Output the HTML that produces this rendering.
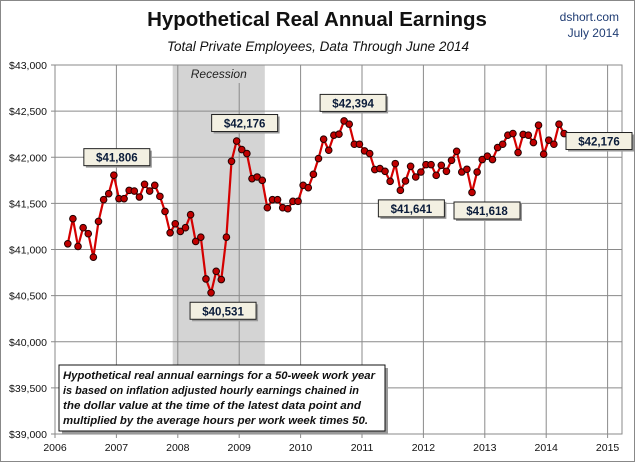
<!DOCTYPE html>
<html><head><meta charset="utf-8"><style>
body{margin:0;background:#fff;}
svg{display:block;font-family:"Liberation Sans",sans-serif;}
</style></head><body>
<svg id="chart" width="635" height="462" viewBox="0 0 635 462">
<rect x="0.5" y="0.5" width="634" height="461" fill="#fff" stroke="#888"/>
<text x="317" y="26" text-anchor="middle" font-size="20.5" font-weight="bold" fill="#111">Hypothetical Real Annual Earnings</text>
<text x="318" y="51" text-anchor="middle" font-size="13.5" font-style="italic" fill="#111">Total Private Employees, Data Through June 2014</text>
<text x="619" y="21" text-anchor="end" font-size="12" fill="#1f3c73">dshort.com</text>
<text x="619" y="37" text-anchor="end" font-size="12" fill="#1f3c73">July 2014</text>
<g id="plot"></g>
</svg>
<script>
const yearTicks=[2006,2007,2008,2009,2010,2011,2012,2013,2014,2015];
const valueTicks=[39000,39500,40000,40500,41000,41500,42000,42500,43000];
const startYear=2006, startMonth=3;
const earnings=[41062,41334,41033,41236,41171,40917,41304,41540,41605,41806,41551,41551,41641,41634,41569,41707,41634,41696,41576,41413,41181,41279,41196,41236,41377,41087,41134,40681,40531,40764,40674,41134,41956,42176,42083,42040,
41768,41786,41750,41453,41540,41540,41453,41442,41522,41522,41696,41670,41815,41986,42196,42076,42239,42250,42394,42359,42141,42141,42069,42040,
41866,41877,41848,41739,41931,41641,41743,41902,41786,41840,41920,41920,41804,41913,41848,41967,42065,41840,41870,41618,41840,41975,42011,41975,42105,42141,42239,42257,42051,42247,42239,42159,42348,42033,42185,42141,42359,42257,42221,42176];
const labeledIdx=[9,33,28,54,65,79,99];
const recession=[2007.917,2009.417];

const X0=55,YW=61.4,L=55,R=622,T=65,B=434;
const xs=y=>X0+(y-2006)*YW;
const ys=v=>B-(v-39000)/4000*(B-T);
const xi=i=>xs(startYear+(startMonth-1+i+0.5)/12);
const NS="http://www.w3.org/2000/svg";
const g=document.getElementById('plot');
function mk(t,a,p){const e=document.createElementNS(NS,t);for(const k in a)e.setAttribute(k,a[k]);(p||g).appendChild(e);return e;}
const fmt=v=>'$'+v.toLocaleString('en-US');

const rec=mk('rect',{x:xs(recession[0]),y:T,width:xs(recession[1])-xs(recession[0]),height:B-T,fill:'#d4d4d4'});


const rt=mk('text',{x:(xs(recession[0])+xs(recession[1]))/2,y:T+13,'text-anchor':'middle','font-size':12,'font-style':'italic',fill:'#222'});
rt.textContent='Recession';



valueTicks.forEach(v=>{
  const l=mk('line',{x1:L-4,x2:R,y1:ys(v),y2:ys(v),stroke:'#8a8a8a','stroke-width':1});
  
  
  const t=mk('text',{x:L-8,y:ys(v)+4,'text-anchor':'end','font-size':10.5,fill:'#111'});
  t.textContent=fmt(v);
  
  
});
yearTicks.forEach(y=>{
  const l=mk('line',{x1:xs(y),x2:xs(y),y1:y===2009?T+18:T,y2:B+4,stroke:'#8a8a8a','stroke-width':1});
  
  
  const t=mk('text',{x:xs(y),y:B+17,'text-anchor':'middle','font-size':10.5,fill:'#111'});
  t.textContent=y;
  
  
});
const bx=mk('rect',{x:L,y:T,width:R-L,height:B-T,fill:'none',stroke:'#8a8a8a'});



const pts=earnings.map((v,i)=>xi(i).toFixed(1)+','+ys(v).toFixed(1)).join(' ');
const pl=mk('polyline',{points:pts,fill:'none',stroke:'#d40000','stroke-width':2.2});


earnings.forEach((v,i)=>{
  const c=mk('circle',{cx:xi(i),cy:ys(v),r:3.3,fill:'#c00000',stroke:'#200','stroke-width':1});
  
  
});

const labelPos={9:[3,-1],33:[8,-1],28:[12,1],54:[9,-1],65:[11,1],79:[15,1],99:[1,0]};
labeledIdx.forEach(i=>{
  const v=earnings[i],px=xi(i),py=ys(v),w=66,h=17;
  const p=labelPos[i]||[0,-1];
  let cx=px,cy=py;
  if(p[1]===0){cx=px+8+w/2;} else {cx=px+p[0];cy=py+p[1]*18;}
  if(cx+w/2>632)cx=632-w/2;
  const gg=mk('g',{});
  
  
  mk('rect',{x:cx-w/2+2,y:cy-h/2+2,width:w,height:h,fill:'#999'},gg);
  mk('rect',{x:cx-w/2,y:cy-h/2,width:w,height:h,fill:'#f3f0e2',stroke:'#222'},gg);
  const t=mk('text',{x:cx,y:cy+4.5,'text-anchor':'middle','font-size':11.5,'font-weight':'bold',fill:'#0b1c3a'},gg);
  t.textContent=fmt(v);
});

const nb=mk('g',{});


mk('rect',{x:62,y:368,width:326,height:66,fill:'#999'},nb);
mk('rect',{x:59,y:365,width:326,height:66,fill:'#fff',stroke:'#111'},nb);
["Hypothetical real annual earnings for a 50-week work year","is based on inflation adjusted hourly earnings chained in","the dollar value at the time of the latest data point and","multiplied by the average hours per work week times 50."].forEach((s,k)=>{
  const t=mk('text',{x:63,y:379+k*15,'font-size':11.3,'font-style':'italic','font-weight':'bold',fill:'#111',textLength:k===0?312:(k===1?296:(k===2?298:305)),lengthAdjust:'spacingAndGlyphs'},nb);
  t.textContent=s;
});
</script>
</body></html>
